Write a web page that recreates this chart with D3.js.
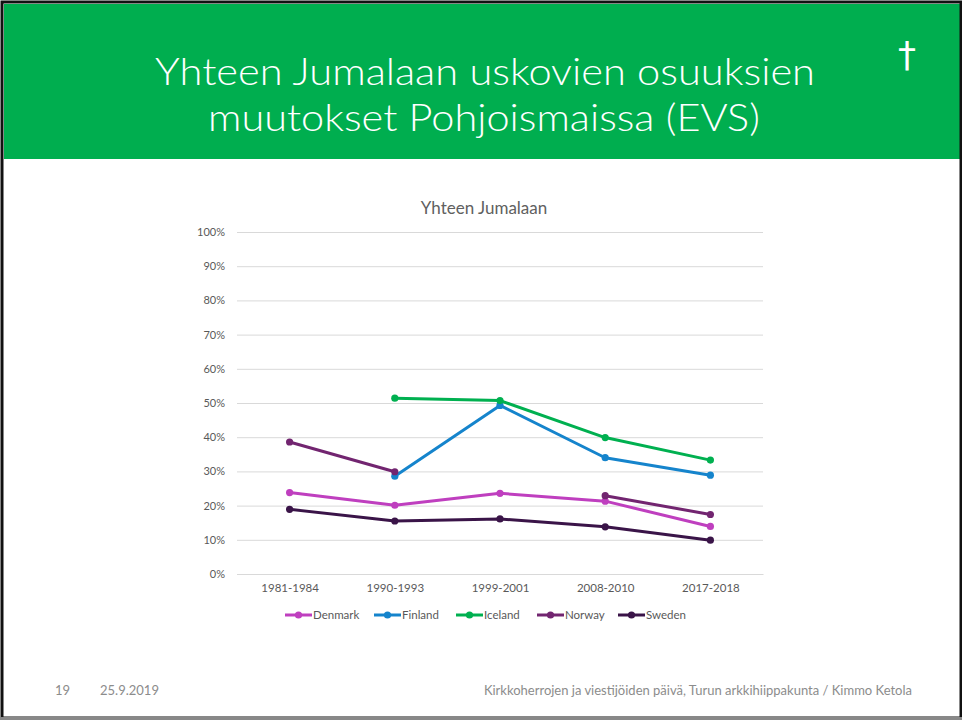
<!DOCTYPE html>
<html>
<head>
<meta charset="utf-8">
<script src="https://cdn.jsdelivr.net/npm/d3@7"></script>
<style>
  body { margin: 0; background: #fff; }
  svg { display: block; }
  .sans { font-family: Lato, "Open Sans", sans-serif; }
</style>
</head>
<body>
<svg id="slide" width="962" height="720"></svg>
<script>
const categories = ["1981-1984", "1990-1993", "1999-2001", "2008-2010", "2017-2018"];
const seriesNames = ["Denmark", "Finland", "Iceland", "Norway", "Sweden"];
const seriesColors = ["#bf3fbf", "#1584cc", "#00b050", "#722570", "#3a1448"];
const denmark = [23.8, 20.1, 23.6, 21.3, 13.9];
const finland = [null, 28.6, 49.3, 34.0, 28.9];
const iceland = [null, 51.4, 50.7, 39.9, 33.3];
const norway  = [38.6, 29.9, null, 22.9, 17.4];
const sweden  = [18.9, 15.5, 16.1, 13.8, 9.9];
const yTicks = [0, 10, 20, 30, 40, 50, 60, 70, 80, 90, 100];

const seriesValues = [denmark, finland, iceland, norway, sweden];

const svg = d3.select("#slide");

// slide frame + header
svg.append("rect").attr("x", 0).attr("y", 0).attr("width", 962).attr("height", 720).attr("fill", "#fff");
svg.append("rect").attr("x", 4).attr("y", 4).attr("width", 956).attr("height", 155).attr("fill", "#00ae4f");
svg.append("rect").attr("x", 2).attr("y", 2).attr("width", 959).attr("height", 716)
  .attr("fill", "none").attr("stroke", "#111").attr("stroke-width", 3);
svg.append("line").attr("x1", 0).attr("x2", 962).attr("y1", 718.5).attr("y2", 718.5)
  .attr("stroke", "#888").attr("stroke-width", 3);

// two lines as separate texts, tight spacing like the slide
svg.append("text").attr("class", "sans")
  .attr("x", 485).attr("y", 85).attr("text-anchor", "middle")
  .attr("fill", "#fff").attr("font-size", 38).attr("font-weight", 300)
  .attr("textLength", 660).attr("lengthAdjust", "spacingAndGlyphs")
  .text("Yhteen Jumalaan uskovien osuuksien");
svg.append("text").attr("class", "sans")
  .attr("x", 484).attr("y", 131).attr("text-anchor", "middle")
  .attr("fill", "#fff").attr("font-size", 38).attr("font-weight", 300)
  .attr("textLength", 552).attr("lengthAdjust", "spacingAndGlyphs")
  .text("muutokset Pohjoismaissa (EVS)");

svg.append("text").attr("x", 907).attr("y", 67).attr("text-anchor", "middle")
  .attr("fill", "#fff").attr("font-size", 36)
  .attr("font-family", "DejaVu Sans").text("†");

// chart
const x = d3.scalePoint().domain(categories).range([237, 763]).padding(0.5);
const y = d3.scaleLinear().domain([0, 100]).range([574, 232]);

const chart = svg.append("g").attr("class", "sans");

chart.append("text").attr("x", 484).attr("y", 214).attr("text-anchor", "middle")
  .attr("fill", "#606060").attr("font-size", 17).text("Yhteen Jumalaan");

const yAxis = chart.append("g").attr("transform", "translate(237,0)")
  .call(d3.axisLeft(y).tickValues(yTicks).tickFormat(d => d + "%").tickSize(-526).tickPadding(12));
yAxis.select(".domain").remove();
yAxis.selectAll(".tick line").attr("stroke", "#d9d9d9");
yAxis.selectAll(".tick text").attr("fill", "#595959").attr("font-size", 11)
  .attr("font-family", "Lato, sans-serif");

const xAxis = chart.append("g").attr("transform", "translate(0,574)")
  .call(d3.axisBottom(x).tickSize(0).tickPadding(10));
xAxis.select(".domain").attr("stroke", "#d9d9d9");
xAxis.selectAll(".tick text").attr("fill", "#595959").attr("font-size", 11.5)
  .attr("font-family", "Lato, sans-serif");

const line = d3.line()
  .defined(d => d != null)
  .x((d, i) => x(categories[i]))
  .y(d => y(d));

seriesValues.forEach((vals, s) => {
  const g = chart.append("g");
  g.append("path").datum(vals).attr("d", line).attr("fill", "none")
    .attr("stroke", seriesColors[s]).attr("stroke-width", 3).attr("stroke-linejoin", "round");
  g.selectAll("circle").data(vals.map((v, i) => ({ v, i })).filter(d => d.v != null))
    .enter().append("circle")
    .attr("cx", d => x(categories[d.i])).attr("cy", d => y(d.v)).attr("r", 3.6)
    .attr("fill", seriesColors[s]);
});

// legend
const legendX = [285, 374, 456, 537, 618];
const legend = chart.append("g").attr("transform", "translate(0,615)");
seriesNames.forEach((name, s) => {
  const it = legend.append("g").attr("transform", `translate(${legendX[s]},0)`);
  it.append("line").attr("x1", 0).attr("x2", 27).attr("stroke", seriesColors[s]).attr("stroke-width", 3);
  it.append("circle").attr("cx", 13.5).attr("r", 3.6).attr("fill", seriesColors[s]);
  it.append("text").attr("x", 28).attr("dy", "0.35em").attr("fill", "#595959")
    .attr("font-size", 11.5).text(name);
});

// footer
const foot = svg.append("g").attr("class", "sans").attr("fill", "#8c8c8c").attr("font-size", 13);
foot.append("text").attr("x", 55).attr("y", 695).text("19");
foot.append("text").attr("x", 100).attr("y", 695).text("25.9.2019");
foot.append("text").attr("x", 912).attr("y", 695).attr("text-anchor", "end")
  .text("Kirkkoherrojen ja viestijöiden päivä, Turun arkkihiippakunta / Kimmo Ketola");
</script>
</body>
</html>
